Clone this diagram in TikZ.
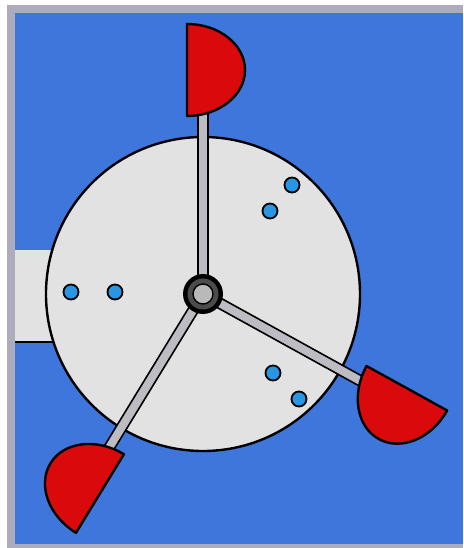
\documentclass[tikz,border=0pt]{standalone}
\usepackage{tikz}

\definecolor{sea}{RGB}{62,118,220}
\definecolor{frame}{RGB}{172,172,188}
\definecolor{wheel}{RGB}{226,226,226}
\definecolor{rod}{RGB}{188,188,194}
\definecolor{blade}{RGB}{218,10,12}
\definecolor{hole}{RGB}{40,150,226}

\tikzset{
  spoke/.style={fill=rod,draw=black,line width=1.6pt},
  paddle/.style={fill=blade,draw=black,line width=2.4pt,line join=round},
  pin/.style={fill=hole,draw=black,line width=1.8pt}
}

\begin{document}
\begin{tikzpicture}[x=1pt,y=1pt]
        % background and frame
        \fill[white] (-203,-254) rectangle (260,294);
        \useasboundingbox (-203,-254) rectangle (260,294);
        \fill[frame] (-196,-254) rectangle (260,289);
        \fill[sea] (-188,-250) rectangle (260,281);

        % stub on the left
        \fill[wheel] (-188,44) rectangle (-140,-48);
        \draw[line width=2.4pt] (-188,-48) -- (-140,-48);

        % the wheel
        \draw[fill=wheel,line width=2.4pt] (0,0) circle (157);

        % holes
        \draw[pin] (-132,2) circle (7.5);
        \draw[pin] (-88,2) circle (7.5);
        \draw[pin] (89,109) circle (7.5);
        \draw[pin] (67,83) circle (7.5);
        \draw[pin] (70,-79) circle (7.5);
        \draw[pin] (96,-105) circle (7.5);

        % top arm
        \begin{scope}[rotate=0]
          \draw[spoke] (-5,15) rectangle (5,182);
          \draw[paddle] (-16,178) arc[start angle=-90,end angle=90,x radius=58,y radius=46] -- cycle;
        \end{scope}
        % right arm
        \begin{scope}[rotate=-118.9]
          \draw[spoke] (-5,15) rectangle (5,182);
          \draw[paddle] (-16,178) arc[start angle=-90,end angle=90,x radius=58,y radius=46] -- cycle;
        \end{scope}
        % left arm
        \begin{scope}[rotate=148.6]
          \draw[spoke] (-5,15) rectangle (5,182);
          \draw[paddle] (-16,178) arc[start angle=-90,end angle=90,x radius=58,y radius=46] -- cycle;
        \end{scope}

        % hub
        \fill[black] (0,0) circle (20);
        \fill[black!70] (0,0) circle (15.5);
        \draw[fill=gray!55,line width=1.4pt] (0,0) circle (10);
\end{tikzpicture}
\end{document}
